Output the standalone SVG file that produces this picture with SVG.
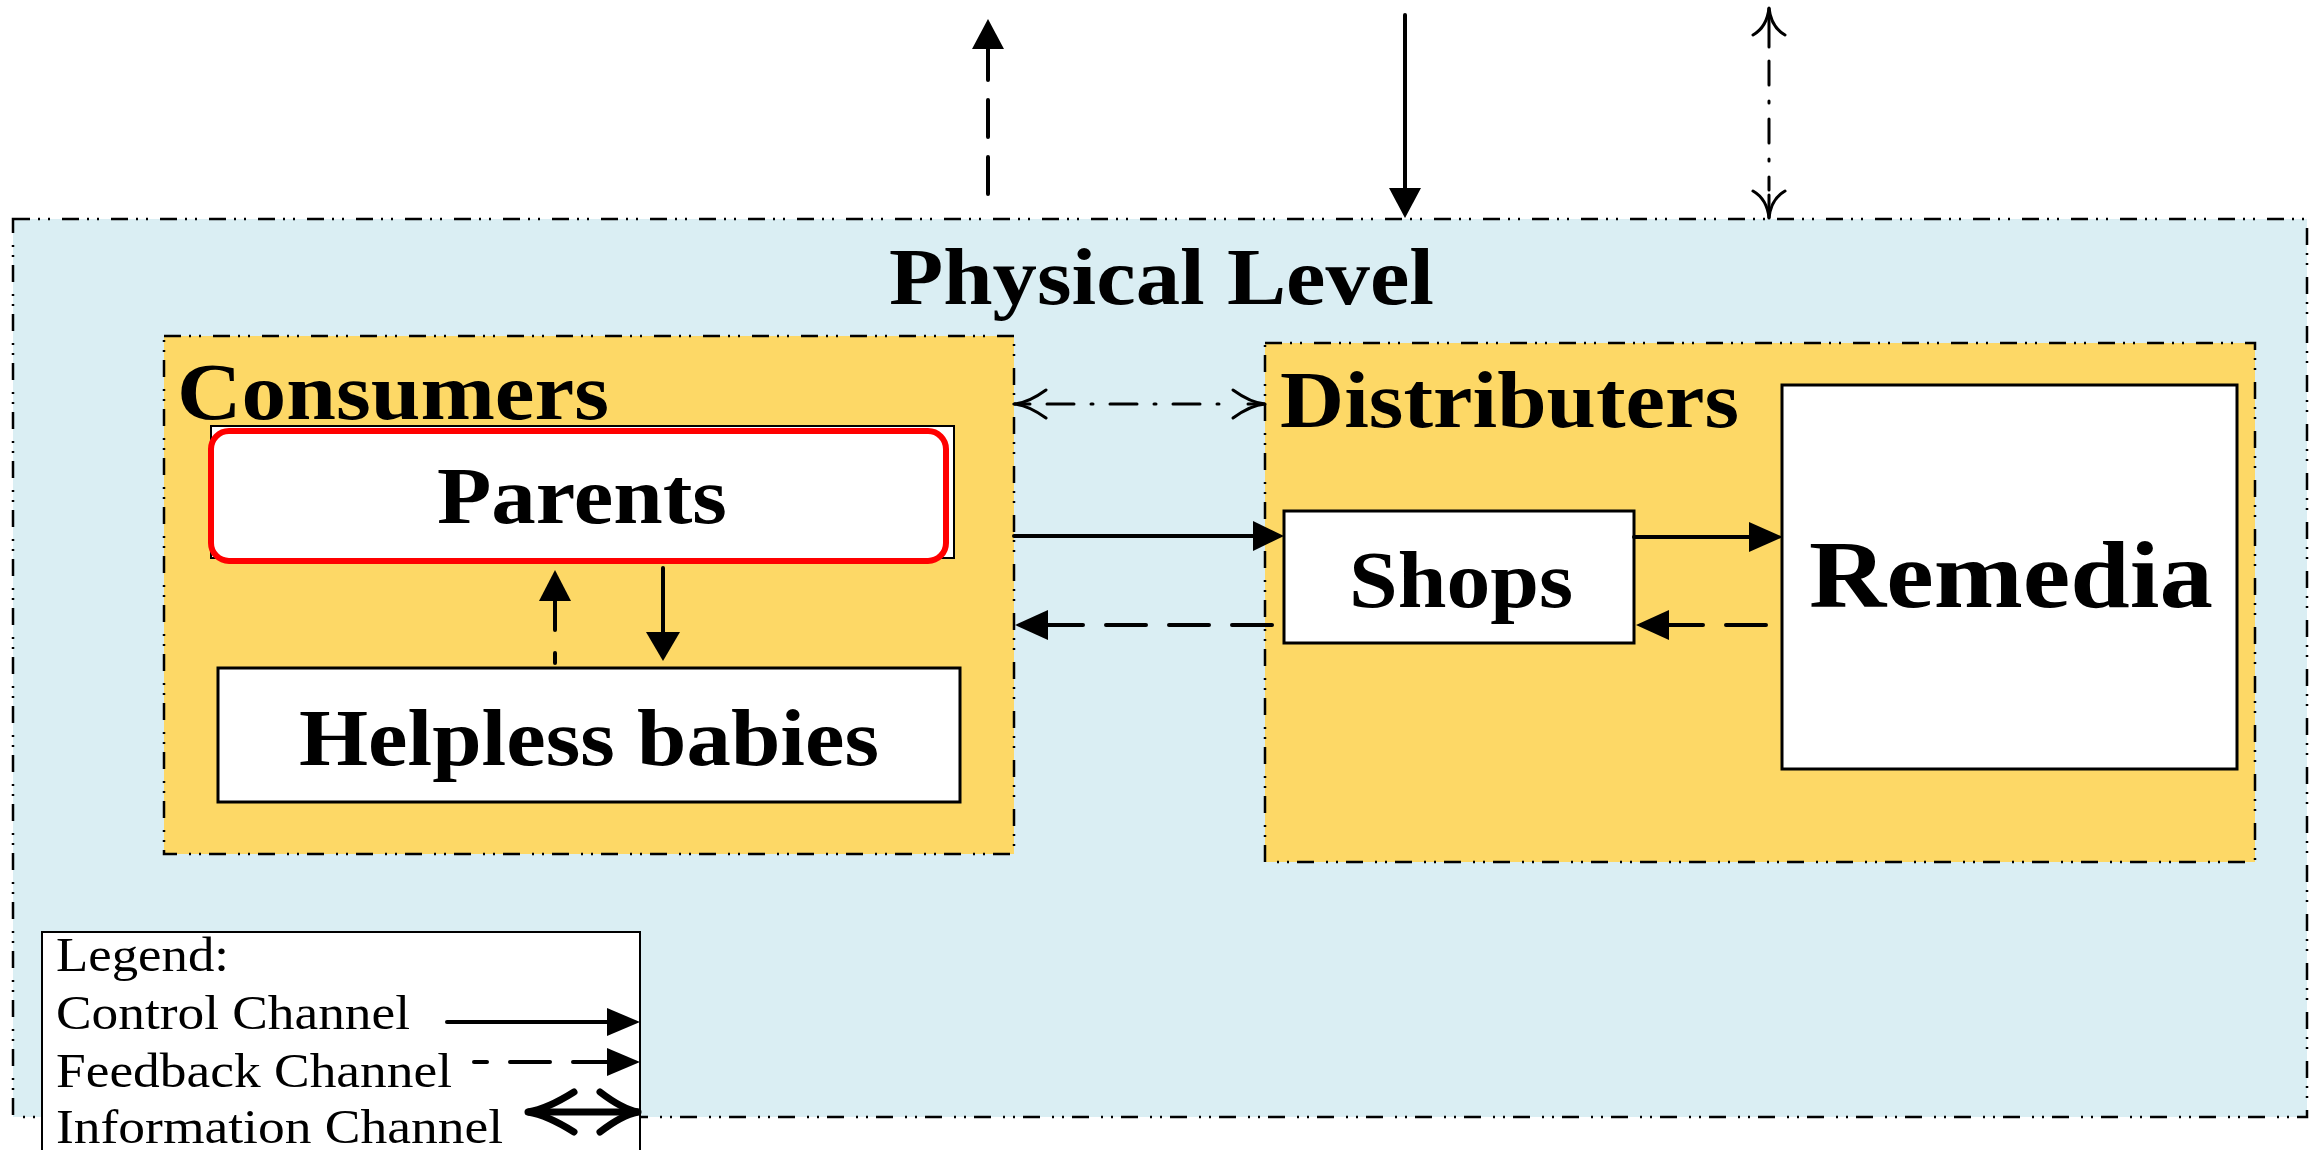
<svg xmlns="http://www.w3.org/2000/svg" width="2318" height="1150" viewBox="0 0 2318 1150">
<style>
.bd{stroke:#000;stroke-width:2.5;stroke-dasharray:17 8 2 8 2 12}
.box{fill:#fff;stroke:#000;stroke-width:3}
.t{font-family:"Liberation Serif","Times New Roman",serif;font-weight:bold;fill:#000}
.lt{font-family:"Liberation Serif","Times New Roman",serif;font-size:48px;fill:#000}
.ln{stroke:#000;stroke-width:4;fill:none;stroke-linecap:round}
.dl{stroke:#000;stroke-width:4;fill:none;stroke-linecap:round;stroke-dasharray:40 23}
.inf{stroke:#000;stroke-width:3;fill:none;stroke-linecap:round}
.hd{fill:#000}
</style>
<rect width="2318" height="1150" fill="#fff"/>
<g id="physical-level">
<rect x="13" y="219" width="2294" height="898" fill="#DAEEF3" class="bd"/>
<text class="t" x="889" y="304" font-size="81" textLength="545" lengthAdjust="spacingAndGlyphs">Physical Level</text>
</g>
<g id="consumers">
<rect x="164" y="336" width="850" height="518" fill="#FDD866" class="bd"/>
<text class="t" x="177" y="419" font-size="80" textLength="432" lengthAdjust="spacingAndGlyphs">Consumers</text>
</g>
<g id="distributers">
<rect x="1265" y="343" width="990" height="519" fill="#FDD866" class="bd"/>
<text class="t" x="1280" y="427" font-size="80" textLength="459" lengthAdjust="spacingAndGlyphs">Distributers</text>
</g>
<g id="parents">
<rect x="211" y="426" width="743" height="132" fill="#fff" stroke="#000" stroke-width="2"/>
<rect x="211" y="431" width="735" height="130" rx="18" fill="#fff" stroke="#FF0000" stroke-width="6"/>
<text class="t" x="437" y="523" font-size="80" textLength="290" lengthAdjust="spacingAndGlyphs">Parents</text>
</g>
<g id="helpless-babies">
<rect class="box" x="218" y="668" width="742" height="134"/>
<text class="t" x="299" y="765" font-size="80" textLength="580" lengthAdjust="spacingAndGlyphs">Helpless babies</text>
</g>
<g id="shops">
<rect class="box" x="1284" y="511" width="350" height="132"/>
<text class="t" x="1349" y="607" font-size="81" textLength="224" lengthAdjust="spacingAndGlyphs">Shops</text>
</g>
<g id="remedia">
<rect class="box" x="1782" y="385" width="455" height="384"/>
<text class="t" x="1809" y="607" font-size="96" textLength="404" lengthAdjust="spacingAndGlyphs">Remedia</text>
</g>
<g id="connectors">
<line class="ln" x1="988" y1="49" x2="988" y2="194" stroke-dasharray="37 20" stroke-dashoffset="6" stroke-linecap="butt"/>
<polygon class="hd" points="988,19 972,49 1004,49"/>
<line class="ln" x1="1405" y1="15" x2="1405" y2="190"/>
<polygon class="hd" points="1405,218 1389,188 1421,188"/>
<line class="inf" x1="1769" y1="8" x2="1769" y2="47"/>
<line class="inf" x1="1769" y1="47" x2="1769" y2="190" stroke-dasharray="24 16 2 16" stroke-dashoffset="44" stroke-linecap="butt"/>
<line class="inf" x1="1769" y1="195" x2="1769" y2="218"/>
<path class="inf" d="M1753,35 Q1767,27 1769,8 Q1771,27 1785,35"/>
<path class="inf" d="M1753,191 Q1767,199 1769,218 Q1771,199 1785,191"/>
<line class="inf" x1="1014" y1="404" x2="1030" y2="404"/>
<line class="inf" x1="1047" y1="404" x2="1233" y2="404" stroke-dasharray="27 17 2 17" stroke-linecap="butt"/>
<line class="inf" x1="1248" y1="404" x2="1265" y2="404"/>
<path class="inf" d="M1046,390 Q1028,403 1014,404 Q1028,405 1046,418"/>
<path class="inf" d="M1233,390 Q1251,403 1265,404 Q1251,405 1233,418"/>
<line class="ln" x1="1014" y1="536" x2="1256" y2="536"/>
<polygon class="hd" points="1284,536 1253,521 1253,551"/>
<line class="dl" x1="1272" y1="625" x2="1048" y2="625"/>
<polygon class="hd" points="1015,625 1048,610 1048,640"/>
<line class="ln" x1="1634" y1="537" x2="1752" y2="537"/>
<polygon class="hd" points="1783,537 1749,522 1749,552"/>
<line class="dl" x1="1766" y1="625" x2="1669" y2="625"/>
<polygon class="hd" points="1636,625 1669,610 1669,640"/>
<line class="ln" x1="663" y1="568" x2="663" y2="634"/>
<polygon class="hd" points="663,661 646,632 680,632"/>
<path class="ln" d="M555,663 V653 M555,630 V601"/>
<polygon class="hd" points="555,570 539,601 571,601"/>
</g>
<g id="legend">
<rect x="42" y="932" width="598" height="230" fill="#fff" stroke="#000" stroke-width="2"/>
<text class="lt" x="56" y="971" textLength="173" lengthAdjust="spacingAndGlyphs">Legend:</text>
<text class="lt" x="56" y="1029" textLength="354" lengthAdjust="spacingAndGlyphs">Control Channel</text>
<text class="lt" x="56" y="1087" textLength="396" lengthAdjust="spacingAndGlyphs">Feedback Channel</text>
<text class="lt" x="56" y="1143" textLength="447" lengthAdjust="spacingAndGlyphs">Information Channel</text>
<line class="ln" x1="447" y1="1022" x2="609" y2="1022"/>
<polygon class="hd" points="640,1022 607,1008 607,1036"/>
<path class="ln" d="M474,1062 H487 M510,1062 H550 M573,1062 H609"/>
<polygon class="hd" points="640,1062 607,1048 607,1076"/>
<g stroke="#000" stroke-width="7" fill="none" stroke-linecap="round">
<line x1="528" y1="1112" x2="638" y2="1112"/>
<path d="M574,1092 Q547,1109 528,1112 Q547,1115 574,1132"/>
<path d="M600,1092 Q622,1109 638,1112 Q622,1115 600,1132"/>
</g>
</g>
</svg>
